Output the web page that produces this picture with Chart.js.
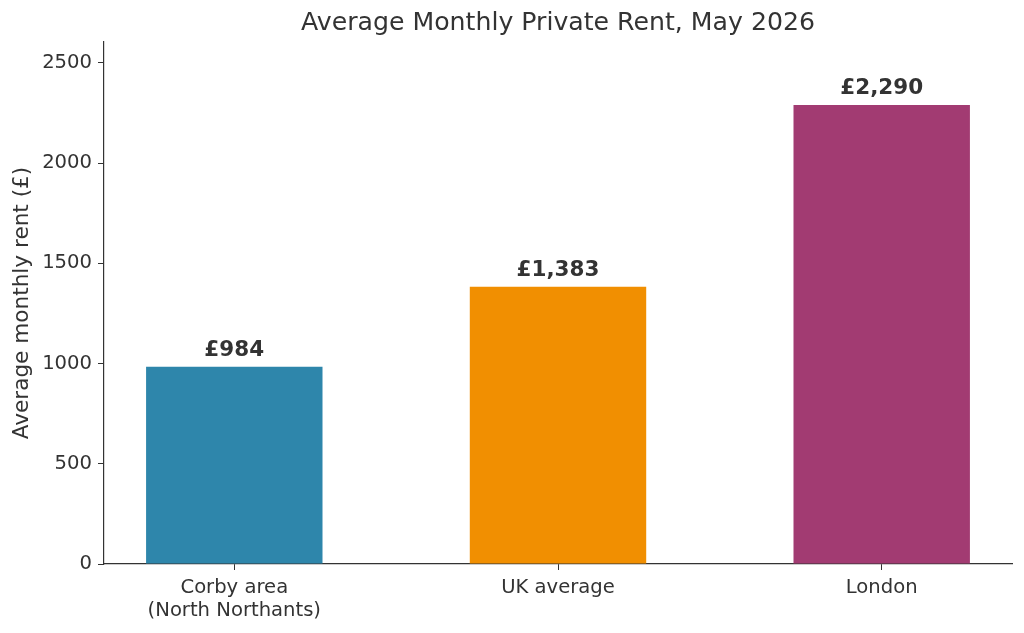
<!DOCTYPE html>
<html>
<head>
<meta charset="utf-8">
<script src="https://cdn.jsdelivr.net/npm/chart.js@4"></script>
<style>
  html, body { margin: 0; padding: 0; background: #fff; }
  #wrap { width: 1024px; height: 633px; }
</style>
</head>
<body>
<div id="wrap"><canvas id="rent-chart"></canvas></div>
<script>
// Data
const regions = [['Corby area', '(North Northants)'], 'UK average', 'London'];
const rents = [984, 1383, 2290];
const rentLabels = ['£984', '£1,383', '£2,290'];
const barColors = ['#2E86AB', '#F18F01', '#A23B72'];
const yTicks = [0, 500, 1000, 1500, 2000, 2500];

const textColor = '#333333';
const fontFamily = '"DejaVu Sans", Verdana, sans-serif';

// Title + value labels drawn on top of the bars
const labelPlugin = {
  id: 'rentLabels',
  afterDatasetsDraw(chart) {
    const ctx = chart.ctx;
    const area = chart.chartArea;
    ctx.save();
    ctx.fillStyle = textColor;
    ctx.textAlign = 'center';

    ctx.font = '25.2px ' + fontFamily;
    ctx.textBaseline = 'middle';
    ctx.fillText('Average Monthly Private Rent, May 2026', (area.left + area.right) / 2, 23);

    ctx.font = 'bold 21.5px ' + fontFamily;
    ctx.textBaseline = 'alphabetic';
    chart.getDatasetMeta(0).data.forEach((bar, i) => {
      ctx.fillText(rentLabels[i], bar.x, bar.y - 11);
    });
    ctx.restore();
  }
};

new Chart(document.getElementById('rent-chart'), {
  type: 'bar',
  data: {
    datasets: [{
      data: rents.map((v, i) => ({ x: i, y: v })),
      backgroundColor: barColors,
      borderWidth: 0,
      barPercentage: 0.545,
      categoryPercentage: 1
    }]
  },
  options: {
    responsive: true,
    maintainAspectRatio: false,
    animation: false,
    layout: { padding: { top: 42, right: 12, left: 0, bottom: 0 } },
    plugins: {
      legend: { display: false },
      tooltip: { enabled: false }
    },
    scales: {
      x: {
        type: 'linear',
        min: -0.4025,
        max: 2.4025,
        offset: false,
        afterBuildTicks: (scale) => { scale.ticks = regions.map((r, i) => ({ value: i })); },
        afterFit: (scale) => { scale.height = 69; },
        ticks: {
          callback: (value) => regions[value],
          color: textColor,
          font: { family: fontFamily, size: 19.6 },
          padding: 6,
          maxRotation: 0,
          autoSkip: false
        },
        grid: { drawOnChartArea: false, offset: false, tickLength: 6, tickColor: textColor },
        border: { color: textColor, width: 1.2 }
      },
      y: {
        min: 0,
        max: 2604,
        afterBuildTicks: (scale) => { scale.ticks = yTicks.map(v => ({ value: v })); },
        afterFit: (scale) => { scale.width = 104; },
        ticks: {
          callback: (value) => String(value),
          color: textColor,
          font: { family: fontFamily, size: 19.6 },
          padding: 6
        },
        grid: { drawOnChartArea: false, tickLength: 6, tickColor: textColor },
        border: { color: textColor, width: 1.2 },
        title: {
          display: true,
          text: 'Average monthly rent (£)',
          color: textColor,
          font: { family: fontFamily, size: 21.6 },
          padding: { top: 9, bottom: 0 }
        }
      }
    }
  },
  plugins: [labelPlugin]
});
</script>
</body>
</html>
